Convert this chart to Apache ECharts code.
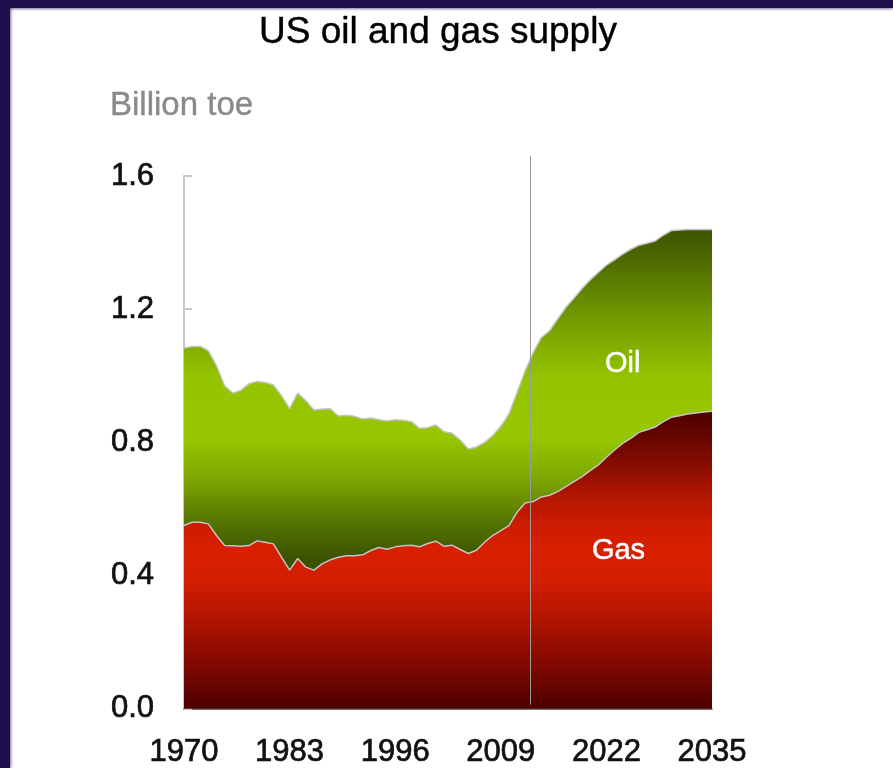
<!DOCTYPE html>
<html>
<head>
<meta charset="utf-8">
<script src="https://cdn.jsdelivr.net/npm/echarts@6/dist/echarts.min.js"></script>
<style>
  html, body { margin: 0; padding: 0; background: #fff; }
  #chart { width: 893px; height: 768px; position: relative; }
  .frame-top { position: absolute; left: 0; top: 0; width: 893px; height: 8px; background: #1e0e4c; box-shadow: 0 1px 3px rgba(30,14,76,0.6); z-index: 5; }
  .frame-left { position: absolute; left: 0; top: 0; width: 10px; height: 768px; background: #1e0e4c; box-shadow: 1px 0 3px rgba(30,14,76,0.6); z-index: 5; }
</style>
</head>
<body>
<div id="chart"></div>
<div class="frame-top"></div>
<div class="frame-left"></div>
<script>
// Years on the horizontal axis, 1970-2035
const years = [
  '1970','1971','1972','1973','1974','1975','1976','1977','1978','1979',
  '1980','1981','1982','1983','1984','1985','1986','1987','1988','1989',
  '1990','1991','1992','1993','1994','1995','1996','1997','1998','1999',
  '2000','2001','2002','2003','2004','2005','2006','2007','2008','2009',
  '2010','2011','2012','2013','2014','2015','2016','2017','2018','2019',
  '2020','2021','2022','2023','2024','2025','2026','2027','2028','2029',
  '2030','2031','2032','2033','2034','2035'
];

// Natural gas supply, billion toe
const gas = [
  0.550,0.560,0.560,0.555,0.520,0.490,0.489,0.488,0.490,0.504,
  0.500,0.495,0.455,0.416,0.451,0.425,0.416,0.435,0.447,0.455,
  0.459,0.459,0.462,0.475,0.484,0.479,0.486,0.489,0.491,0.486,
  0.496,0.503,0.488,0.491,0.478,0.466,0.476,0.500,0.520,0.535,
  0.550,0.590,0.618,0.622,0.636,0.641,0.652,0.667,0.682,0.697,
  0.715,0.732,0.755,0.777,0.797,0.812,0.830,0.838,0.846,0.862,
  0.875,0.880,0.885,0.888,0.891,0.893
];

// Oil supply, billion toe (stacked on gas)
const oil = [
  0.533,0.528,0.528,0.520,0.510,0.480,0.459,0.468,0.486,0.479,
  0.480,0.477,0.485,0.485,0.497,0.500,0.481,0.465,0.454,0.424,
  0.422,0.419,0.408,0.398,0.384,0.385,0.382,0.377,0.371,0.356,
  0.348,0.349,0.344,0.336,0.329,0.314,0.310,0.300,0.300,0.313,
  0.335,0.360,0.397,0.448,0.479,0.494,0.518,0.538,0.551,0.565,
  0.573,0.578,0.577,0.571,0.568,0.568,0.562,0.560,0.559,0.560,
  0.561,0.558,0.554,0.551,0.548,0.546
];

// Where history ends and projections begin (fractional year)
const projectionStart = 2012.6;

const FONT = '"Liberation Sans", Arial, Helvetica, sans-serif';

const gasFill = new echarts.graphic.LinearGradient(0, 0, 0, 1, [
  { offset: 0.00, color: '#4e0000' },
  { offset: 0.09, color: '#680600' },
  { offset: 0.19, color: '#8a0e00' },
  { offset: 0.28, color: '#b01600' },
  { offset: 0.38, color: '#cc1c00' },
  { offset: 0.46, color: '#d81f00' },
  { offset: 0.56, color: '#d41e00' },
  { offset: 0.69, color: '#b41500' },
  { offset: 0.83, color: '#880a00' },
  { offset: 1.00, color: '#4c0000' }
]);

const oilFill = new echarts.graphic.LinearGradient(0, 0, 0, 1, [
  { offset: 0.00, color: '#3e5400' },
  { offset: 0.09, color: '#4d6a00' },
  { offset: 0.20, color: '#648a00' },
  { offset: 0.32, color: '#7eaa00' },
  { offset: 0.44, color: '#94c400' },
  { offset: 0.61, color: '#97c700' },
  { offset: 0.73, color: '#7ea800' },
  { offset: 0.85, color: '#567800' },
  { offset: 0.96, color: '#3c5400' },
  { offset: 1.00, color: '#385000' }
]);

// A hairline outline in the text colour gives the slightly heavier strokes of the labels
const heavy = (color, w) => ({ textBorderColor: color, textBorderWidth: w });

const chart = echarts.init(document.getElementById('chart'), null, { renderer: 'canvas' });

chart.setOption({
  animation: false,
  backgroundColor: '#ffffff',
  title: [
    {
      text: 'US oil and gas supply',
      left: 259, top: 14, padding: 0,
      textStyle: Object.assign({ fontFamily: FONT, fontSize: 37, fontWeight: 'normal', color: '#000' }, heavy('#000', 0.4))
    },
    {
      text: 'Billion toe',
      left: 110, top: 89, padding: 0,
      textStyle: Object.assign({ fontFamily: FONT, fontSize: 33, fontWeight: 'normal', color: '#8a8a8a' }, heavy('#8a8a8a', 0.4))
    }
  ],
  grid: { left: 184, right: 181, top: 176, bottom: 56, containLabel: false },
  xAxis: {
    type: 'category',
    data: years,
    boundaryGap: false,
    axisLine: { show: true, lineStyle: { color: '#444', width: 1.5 } },
    axisTick: { show: false },
    axisLabel: Object.assign({
      interval: 12,
      margin: 28,
      fontFamily: FONT, fontSize: 31, color: '#111'
    }, heavy('#111', 0.7)),
    splitLine: { show: false }
  },
  yAxis: {
    type: 'value',
    min: 0, max: 1.6, interval: 0.4,
    axisLine: { show: true, lineStyle: { color: '#c8c8c8', width: 2 } },
    axisTick: { show: true, inside: true, length: 8, lineStyle: { color: '#c8c8c8', width: 2 } },
    axisLabel: Object.assign({
      margin: 30,
      fontFamily: FONT, fontSize: 31, color: '#111',
      formatter: v => v.toFixed(1)
    }, heavy('#111', 0.7)),
    splitLine: { show: false }
  },
  series: [
    {
      name: 'Gas',
      type: 'line',
      stack: 'supply',
      data: gas,
      symbol: 'none',
      lineStyle: { color: '#c4c4c4', width: 1.5 },
      areaStyle: { color: gasFill, opacity: 1 },
      z: 2,
      markPoint: {
        symbol: 'circle', symbolSize: 0,
        label: Object.assign({ show: true, formatter: '{b}', color: '#fff', fontFamily: FONT, fontSize: 29, offset: [4, 2] }, heavy('#fff', 0.5)),
        data: [{ name: 'Gas', coord: ['2023', 0.48] }]
      }
    },
    {
      name: 'Oil',
      type: 'line',
      stack: 'supply',
      data: oil,
      symbol: 'none',
      lineStyle: { color: '#c4c4c4', width: 1.5 },
      areaStyle: { color: oilFill, opacity: 1 },
      z: 2,
      markPoint: {
        symbol: 'circle', symbolSize: 0,
        label: Object.assign({ show: true, formatter: '{b}', color: '#fff', fontFamily: FONT, fontSize: 29, offset: [0, 2] }, heavy('#fff', 0.5)),
        data: [{ name: 'Oil', coord: ['2024', 1.04] }]
      }
    }
  ]
});

// Divider between historical data and projections, placed through the axis scale
(function drawDivider() {
  const base = Math.floor(projectionStart);
  const frac = projectionStart - base;
  const x0 = chart.convertToPixel({ xAxisIndex: 0 }, String(base));
  const x1 = chart.convertToPixel({ xAxisIndex: 0 }, String(base + 1));
  const x = Math.round(x0 + (x1 - x0) * frac) + 0.5;
  const yTop = chart.convertToPixel({ yAxisIndex: 0 }, 1.6) - 20;
  const yBottom = chart.convertToPixel({ yAxisIndex: 0 }, 0) - 4;
  chart.setOption({
    graphic: [{
      type: 'line',
      z: 10,
      shape: { x1: x, y1: yTop, x2: x, y2: yBottom },
      style: { stroke: '#9a9a9a', lineWidth: 1 }
    }]
  });
})();
</script>
</body>
</html>
